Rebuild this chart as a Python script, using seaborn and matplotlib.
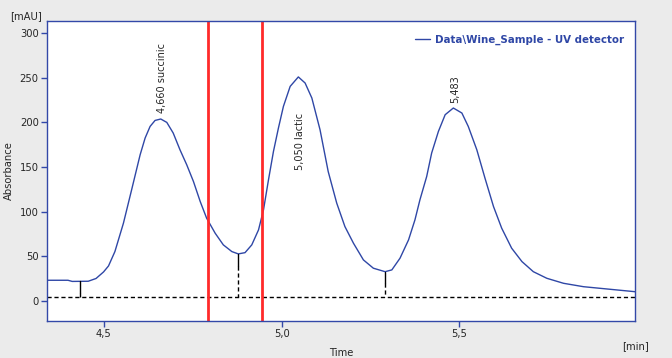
import matplotlib
matplotlib.use("Agg")
import matplotlib.pyplot as plt
import seaborn as sns
import pandas as pd

# chromatogram trace
time = [4.340, 4.399, 4.411, 4.456, 4.478, 4.499, 4.513, 4.531, 4.555, 4.578,
        4.602, 4.616, 4.630, 4.644, 4.660, 4.677, 4.695, 4.714, 4.733, 4.752,
        4.771, 4.789, 4.813, 4.836, 4.860, 4.878, 4.897, 4.916, 4.935, 4.949,
        4.963, 4.977, 4.991, 5.005, 5.024, 5.047, 5.066, 5.085, 5.108, 5.131,
        5.155, 5.178, 5.202, 5.230, 5.258, 5.291, 5.310, 5.333, 5.357, 5.375,
        5.389, 5.408, 5.422, 5.441, 5.460, 5.483, 5.507, 5.525, 5.549, 5.572,
        5.596, 5.619, 5.647, 5.676, 5.708, 5.746, 5.793, 5.849, 5.924, 5.994]
absorbance = [23.2, 23.2, 21.9, 22.1, 25.2, 32.5, 39.2, 55.3, 87.1, 124.4,
              163.7, 182.4, 195.4, 202.1, 203.7, 199.9, 188.0, 169.3, 152.5, 133.7,
              111.3, 92.7, 75.9, 62.8, 55.3, 52.7, 54.1, 62.8, 79.6, 102.0,
              135.6, 167.4, 193.6, 217.8, 240.2, 250.8, 244.0, 227.2, 191.7, 144.9,
              109.5, 83.3, 64.7, 46.0, 36.7, 32.8, 34.8, 47.9, 68.4, 90.8,
              113.2, 139.3, 165.6, 189.8, 208.5, 216.0, 210.4, 195.4, 169.3, 137.5,
              105.7, 81.5, 59.1, 44.1, 32.8, 25.4, 19.8, 16.0, 13.1, 10.4]

# integration baseline
base_t = [4.340, 5.080, 5.080, 5.994]
base_a = [4.1, 4.1, 4.8, 4.8]

# peak separators (drop lines)
drop_t = [4.433, 4.878, 5.291]
drop_top = [21.9, 52.7, 32.8]

# window markers
marker_t = [4.794, 4.946]

# peak labels
label_t = [4.663, 5.052, 5.488]
label_y = [210.7, 210.7, 222.0]
label_text = ["4,660 succinic", "5,050 lactic", "5,483"]

blue = "#2f47a6"
frame = "#3348a8"

sns.set_style("white")
plt.rcParams["font.family"] = ["DejaVu Sans"]

fig = plt.figure(figsize=(6.72, 3.58), dpi=100, facecolor="#ebebeb")
ax = fig.add_axes([47 / 672, 1 - 321 / 358, 588 / 672, 300 / 358])
ax.set_facecolor("white")

df = pd.DataFrame({"Time": time, "Absorbance": absorbance})
sns.lineplot(data=df, x="Time", y="Absorbance", ax=ax, color=blue, lw=1,
             label="Data\\Wine_Sample - UV detector")

ax.plot(base_t, base_a, color="black", ls=(0, (3, 2)), lw=1)

for t, top in zip(drop_t, drop_top):
    solid_end = max(top - 13.0, 4.1)
    ax.plot([t, t], [top, solid_end], color="black", lw=1)
    ax.plot([t, t], [solid_end, 4.1], color="black", lw=1, ls=(0, (3, 2)))

for t in marker_t:
    ax.axvline(t, color="#ff2a2a", lw=2)

ax.text(label_t[0], label_y[0], label_text[0], rotation=90, ha="center", va="bottom", fontsize=7)
ax.text(label_t[1], label_y[1], label_text[1], rotation=90, ha="center", va="top", fontsize=7)
ax.text(label_t[2], label_y[2], label_text[2], rotation=90, ha="center", va="bottom", fontsize=7)

ax.set_xlim(4.340, 5.994)
ax.set_ylim(-22.4, 313.4)
ax.set_xticks([4.5, 5.0, 5.5])
ax.set_xticklabels(["4,5", "5,0", "5,5"])
ax.set_yticks([0, 50, 100, 150, 200, 250, 300])
ax.tick_params(axis="both", direction="out", length=4, width=1, color=frame,
               labelsize=7.2, pad=2, bottom=True, left=True)
for s in ax.spines.values():
    s.set_color(frame)
    s.set_linewidth(1)

ax.set_xlabel("Time", fontsize=7.2, labelpad=6)
ax.set_ylabel("Absorbance", fontsize=7.2, labelpad=4)
fig.text(10 / 672, 1 - 16 / 358, "[mAU]", fontsize=7.2, va="center", ha="left")
fig.text(622 / 672, 1 - 346 / 358, "[min]", fontsize=7.2, va="center", ha="left")

leg = ax.legend(loc="upper right", bbox_to_anchor=(0.997, 0.985), frameon=False,
                handlelength=1.4, handletextpad=0.5, prop={"size": 7.4, "weight": "bold"})
for txt in leg.get_texts():
    txt.set_color(blue)

fig.savefig("out.png", dpi=100, facecolor=fig.get_facecolor())
